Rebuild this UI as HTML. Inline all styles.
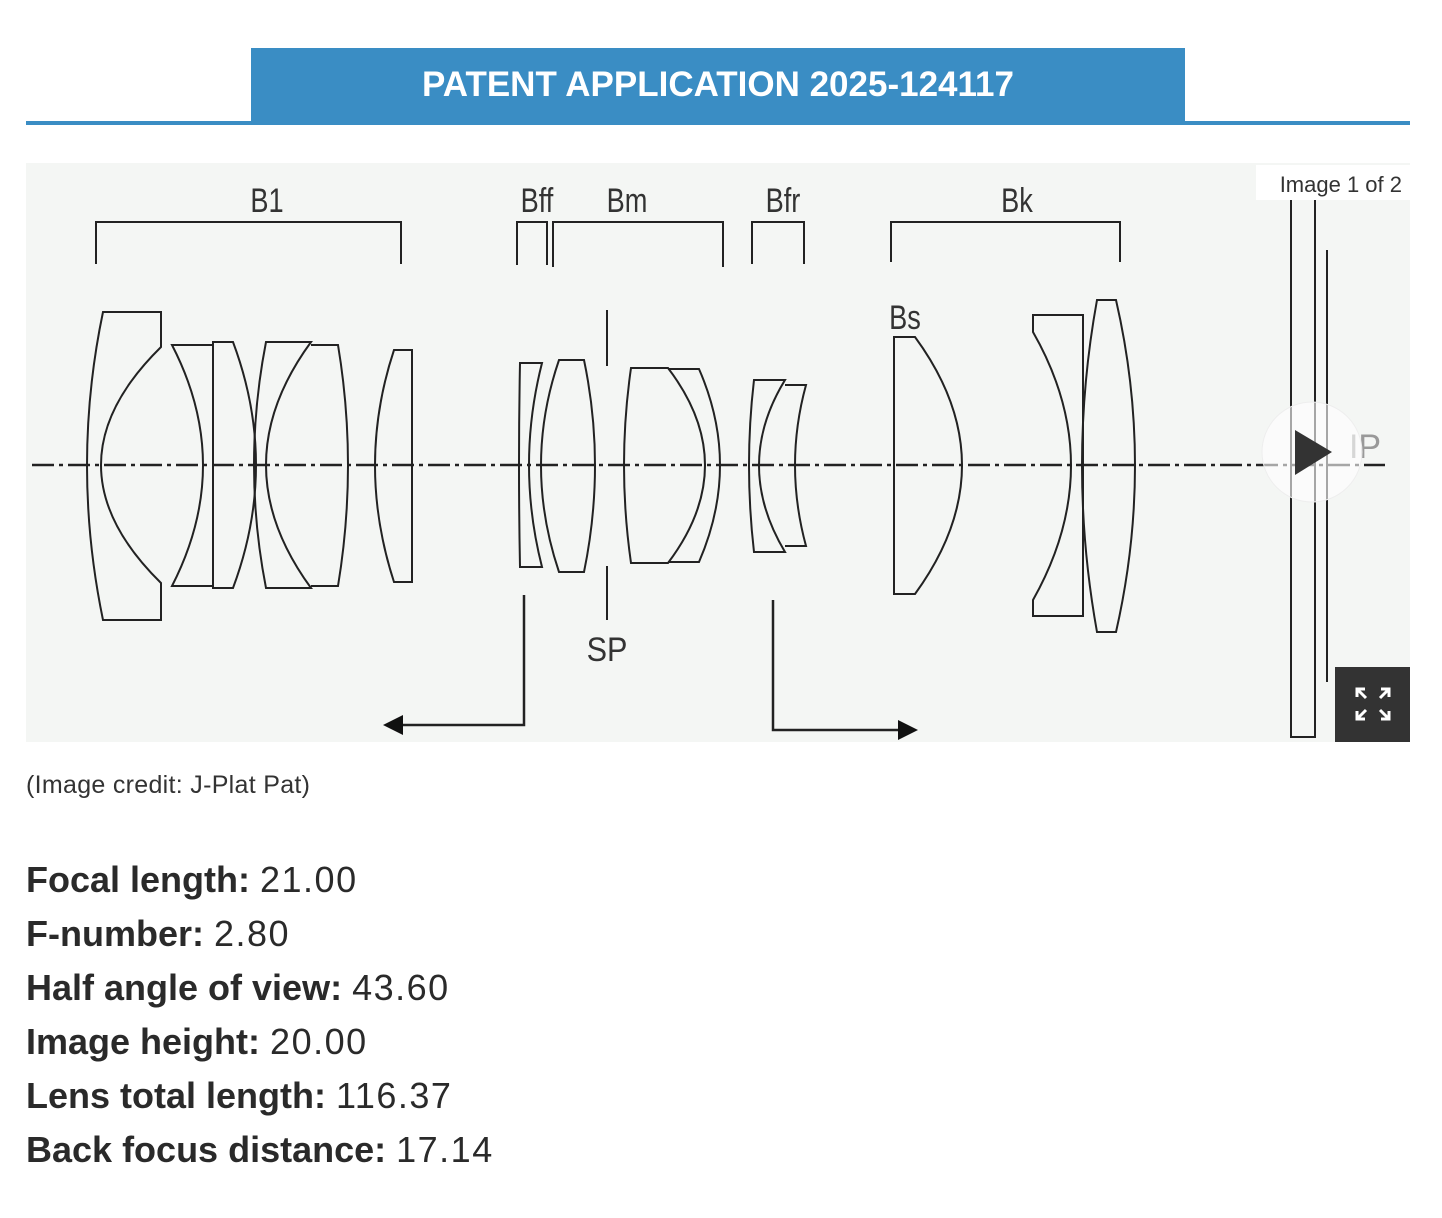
<!DOCTYPE html>
<html><head><meta charset="utf-8"><style>
html,body{margin:0;padding:0;background:#fff;width:1442px;height:1218px;overflow:hidden;font-family:"Liberation Sans",sans-serif;}
.hdr{position:absolute;left:251px;top:48px;width:934px;height:74px;background:#3a8dc4;color:#fff;font-weight:bold;font-size:35px;text-align:center;line-height:74px;}
.rule{position:absolute;left:26px;top:121px;width:1384px;height:4px;background:#3a8dc4;}
.credit{position:absolute;left:26px;top:771px;font-size:25px;color:#333;letter-spacing:0.3px;}
.spec{position:absolute;left:26px;font-size:36px;color:#2a2a2a;line-height:40px;}
.spec b{font-weight:bold;}
.spec span{letter-spacing:1.5px;}
</style></head><body>
<div class="hdr">PATENT APPLICATION 2025-124117</div>
<div class="rule"></div>
<svg style="position:absolute;left:0;top:0" width="1442" height="760" viewBox="0 0 1442 760">
<rect x="26" y="163" width="1384" height="579" fill="#f4f6f4"/>
<g fill="none" stroke="#222" stroke-width="2">
<path d="M96 264V222H401V264"/>
<path d="M517 265V222H547V265"/>
<path d="M553 267V222H723V267"/>
<path d="M752 264V222H804V264"/>
<path d="M891 262V222H1120V262"/>
<line x1="32" y1="465" x2="1385" y2="465" stroke-dasharray="22,5,4,5" stroke-width="2.5"/>
<path d="M103 312H161V347L161 347Q41 465 161 583V620H103Q71 465 103 312Z"/>
<path d="M172 345H213V586H172Q234 465 172 345Z"/>
<path d="M213 342H233Q279 465 233 588H213Z"/>
<path d="M266 342H311Q221 465 311 588H266Q242 465 266 342Z"/>
<path d="M311 345H338Q358 465 338 586H311"/>
<path d="M394 350H412V582H394Q356 465 394 350Z"/>
<path d="M520 363H542Q516 465 542 567H520Q518 465 520 363Z"/>
<path d="M559 360H584Q606 465 584 572H559Q523 465 559 360Z"/>
<line x1="607" y1="310" x2="607" y2="366"/>
<line x1="607" y1="566" x2="607" y2="620"/>
<path d="M631 368H668Q742 465 668 563H631Q617 465 631 368Z"/>
<path d="M668 369H699Q741 465 699 562H668"/>
<path d="M754 380H785Q733 465 785 552H754Q744 465 754 380Z"/>
<path d="M785 385H806Q784 465 806 546H785"/>
<path d="M894 337H915Q1009 465 915 594H894Z"/>
<path d="M1033 315H1083V616H1033V600Q1109 465 1033 332Z"/>
<path d="M1097 300H1116Q1154 465 1116 632H1097Q1067 465 1097 300Z"/>
<path d="M1291 200V737H1315V200"/>
<line x1="1327" y1="250" x2="1327" y2="682"/>
<path d="M524 595V725H395" stroke-width="2.5"/>
<path d="M773 600V730H905" stroke-width="2.5"/>
</g>
<path d="M383 725L403 715V735Z" fill="#111"/>
<path d="M918 730L898 720V740Z" fill="#111"/>
<g font-family="Liberation Sans,sans-serif" font-size="34" fill="#333">
<text x="267" y="212" text-anchor="middle" transform="translate(267 0) scale(0.8 1) translate(-267 0)">B1</text>
<text x="537" y="212" text-anchor="middle" transform="translate(537 0) scale(0.8 1) translate(-537 0)">Bff</text>
<text x="627" y="212" text-anchor="middle" transform="translate(627 0) scale(0.8 1) translate(-627 0)">Bm</text>
<text x="783" y="212" text-anchor="middle" transform="translate(783 0) scale(0.8 1) translate(-783 0)">Bfr</text>
<text x="1017" y="212" text-anchor="middle" transform="translate(1017 0) scale(0.8 1) translate(-1017 0)">Bk</text>
<text x="905" y="329" text-anchor="middle" transform="translate(905 0) scale(0.8 1) translate(-905 0)">Bs</text>
<text x="607" y="661" text-anchor="middle" transform="translate(607 0) scale(0.9 1) translate(-607 0)">SP</text>
<text x="1365" y="458" text-anchor="middle" fill="#999">IP</text>
</g>
<circle cx="1312" cy="452" r="50" fill="#fff" fill-opacity="0.6" stroke="#eee"/>
<path d="M1295 430L1332 452L1295 475Z" fill="#333"/>
<rect x="1256" y="165" width="154" height="35" fill="#fff"/>
<text x="1402" y="192" text-anchor="end" font-family="Liberation Sans,sans-serif" font-size="22" fill="#333">Image 1 of 2</text>
<rect x="1335" y="667" width="75" height="75" fill="#333"/>
<g stroke="#fff" stroke-width="3" fill="none">
<path d="M1357 697V689H1365M1357 689L1366 698"/>
<path d="M1389 697V689H1381M1389 689L1380 698"/>
<path d="M1357 711V719H1365M1357 719L1366 710"/>
<path d="M1389 711V719H1381M1389 719L1380 710"/>
</g>
</svg>
<div class="credit">(Image credit: J-Plat Pat)</div>
<div class="spec" style="top:860px"><b>Focal length:</b> <span>21.00</span></div>
<div class="spec" style="top:914px"><b>F-number:</b> <span>2.80</span></div>
<div class="spec" style="top:968px"><b>Half angle of view:</b> <span>43.60</span></div>
<div class="spec" style="top:1022px"><b>Image height:</b> <span>20.00</span></div>
<div class="spec" style="top:1076px"><b>Lens total length:</b> <span>116.37</span></div>
<div class="spec" style="top:1130px"><b>Back focus distance:</b> <span>17.14</span></div>
</body></html>
